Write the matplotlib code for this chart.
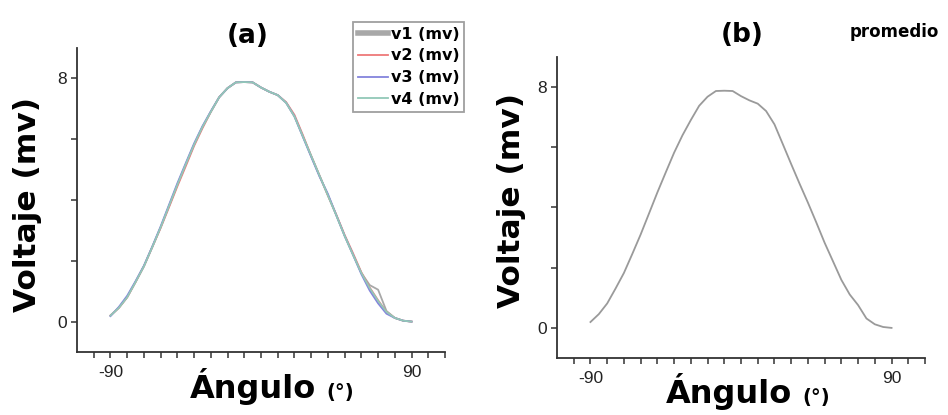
import numpy as np
import matplotlib
matplotlib.use("Agg")
import matplotlib.pyplot as plt
from matplotlib.ticker import FixedLocator

plt.rcParams["axes.unicode_minus"] = False

W, H = 948, 415

# angulo (grados) y voltajes medidos (mv)
angulo = [-90, -85, -80, -75, -70, -65, -60, -55, -50, -45, -40, -35, -30,
          -25, -20, -15, -10, -5, 0, 5, 10, 15, 20, 25, 30, 35, 40, 45, 50,
          55, 60, 65, 70, 75, 80, 85, 90]
v1 = [0.20, 0.45, 0.80, 1.30, 1.82, 2.45, 3.10, 3.80, 4.50, 5.17, 5.82, 6.40,
      6.90, 7.38, 7.68, 7.87, 7.88, 7.87, 7.70, 7.56, 7.45, 7.20, 6.75, 6.10,
      5.45, 4.80, 4.15, 3.50, 2.82, 2.20, 1.60, 1.20, 1.05, 0.35, 0.12, 0.03, 0.00]
v2 = [0.20, 0.45, 0.80, 1.30, 1.82, 2.45, 3.08, 3.76, 4.45, 5.11, 5.78, 6.36,
      6.90, 7.38, 7.68, 7.87, 7.88, 7.87, 7.70, 7.56, 7.45, 7.22, 6.80, 6.14,
      5.45, 4.80, 4.15, 3.52, 2.85, 2.25, 1.62, 1.12, 0.70, 0.32, 0.12, 0.03, 0.00]
v3 = [0.18, 0.48, 0.85, 1.33, 1.84, 2.47, 3.13, 3.84, 4.55, 5.21, 5.86, 6.43,
      6.92, 7.38, 7.68, 7.87, 7.88, 7.87, 7.70, 7.56, 7.45, 7.20, 6.75, 6.08,
      5.42, 4.77, 4.20, 3.50, 2.82, 2.20, 1.56, 1.02, 0.60, 0.26, 0.12, 0.03, 0.00]
v4 = [0.20, 0.45, 0.80, 1.30, 1.82, 2.45, 3.10, 3.80, 4.50, 5.17, 5.82, 6.40,
      6.90, 7.38, 7.68, 7.87, 7.88, 7.87, 7.70, 7.56, 7.45, 7.20, 6.75, 6.10,
      5.45, 4.80, 4.15, 3.50, 2.82, 2.20, 1.60, 1.10, 0.68, 0.32, 0.12, 0.03, 0.00]
series = {"v1 (mv)": v1, "v2 (mv)": v2, "v3 (mv)": v3, "v4 (mv)": v4}
colores = {"v1 (mv)": "#a8a8a8", "v2 (mv)": "#ee7878",
           "v3 (mv)": "#8484dc", "v4 (mv)": "#92c8b8"}
promedio = np.mean([v1, v2, v3, v4], axis=0)


def px(x, y):
    return x / W, 1 - y / H


def estilo(ax):
    for s in ["top", "right"]:
        ax.spines[s].set_visible(False)
    for s in ["left", "bottom"]:
        ax.spines[s].set_linewidth(1.3)
        ax.spines[s].set_color("#333333")
    ax.set_xlim(-110, 110)
    ax.set_ylim(-1, 9)
    ax.xaxis.set_major_locator(FixedLocator([-90, 90]))
    ax.xaxis.set_minor_locator(FixedLocator(np.arange(-100, 111, 10)))
    ax.yaxis.set_major_locator(FixedLocator([0, 8]))
    ax.yaxis.set_minor_locator(FixedLocator([2, 4, 6]))
    ax.tick_params(which="both", direction="out", color="#333333", width=1.1)
    ax.tick_params(axis="x", which="both", length=4, pad=5, labelsize=12.5)
    ax.tick_params(axis="y", which="both", length=4, pad=3, labelsize=12.5)
    for t in ax.get_xticklabels() + ax.get_yticklabels():
        t.set_family(["Liberation Sans Narrow", "Liberation Sans"])
        t.set_color("#222222")


fig = plt.figure(figsize=(W / 100, H / 100), dpi=100)

# (a) las cuatro mediciones
ax1 = fig.add_axes([77 / W, 1 - 352 / H, 368 / W, 304 / H])
for i, (nombre, v) in enumerate(series.items()):
    ax1.plot(angulo, v, color=colores[nombre], lw=1.3, label=nombre, zorder=2 + i)
estilo(ax1)
leg = ax1.legend(loc="upper left", bbox_to_anchor=px(353, 22),
                 bbox_transform=fig.transFigure, frameon=True, fancybox=False,
                 edgecolor="#888888", handlelength=1.9, handletextpad=0.15,
                 labelspacing=0.42, borderpad=0.3, borderaxespad=0,
                 prop={"weight": "bold", "size": 11.5})
leg.get_frame().set_linewidth(1.3)
leg.legend_handles[0].set_linewidth(4)

# (b) promedio
ax2 = fig.add_axes([557 / W, 1 - 358 / H, 368 / W, 301 / H])
ax2.plot(angulo, promedio, color="#9a9a9a", lw=1.3)
estilo(ax2)

bold = dict(weight="bold", color="black", family="DejaVu Sans")
fig.text(*px(248, 36), "(a)", fontsize=19, ha="center", va="center", **bold)
fig.text(*px(742, 35), "(b)", fontsize=19, ha="center", va="center", **bold)
fig.text(*px(894, 32), "promedio", fontsize=12, ha="center", va="center", **bold)

fig.text(*px(28, 205), "Voltaje (mv)", fontsize=22.5, rotation=90,
         ha="center", va="center", **bold)
fig.text(*px(511, 200), "Voltaje (mv)", fontsize=22.5, rotation=90,
         ha="center", va="center", **bold)

fig.text(*px(190, 398), "Ángulo", fontsize=23, ha="left", va="baseline", **bold)
fig.text(*px(326, 398), "(°)", fontsize=14, ha="left", va="baseline", **bold)
fig.text(*px(666, 403), "Ángulo", fontsize=23, ha="left", va="baseline", **bold)
fig.text(*px(802, 403), "(°)", fontsize=14, ha="left", va="baseline", **bold)

fig.savefig("out.png", dpi=100)
